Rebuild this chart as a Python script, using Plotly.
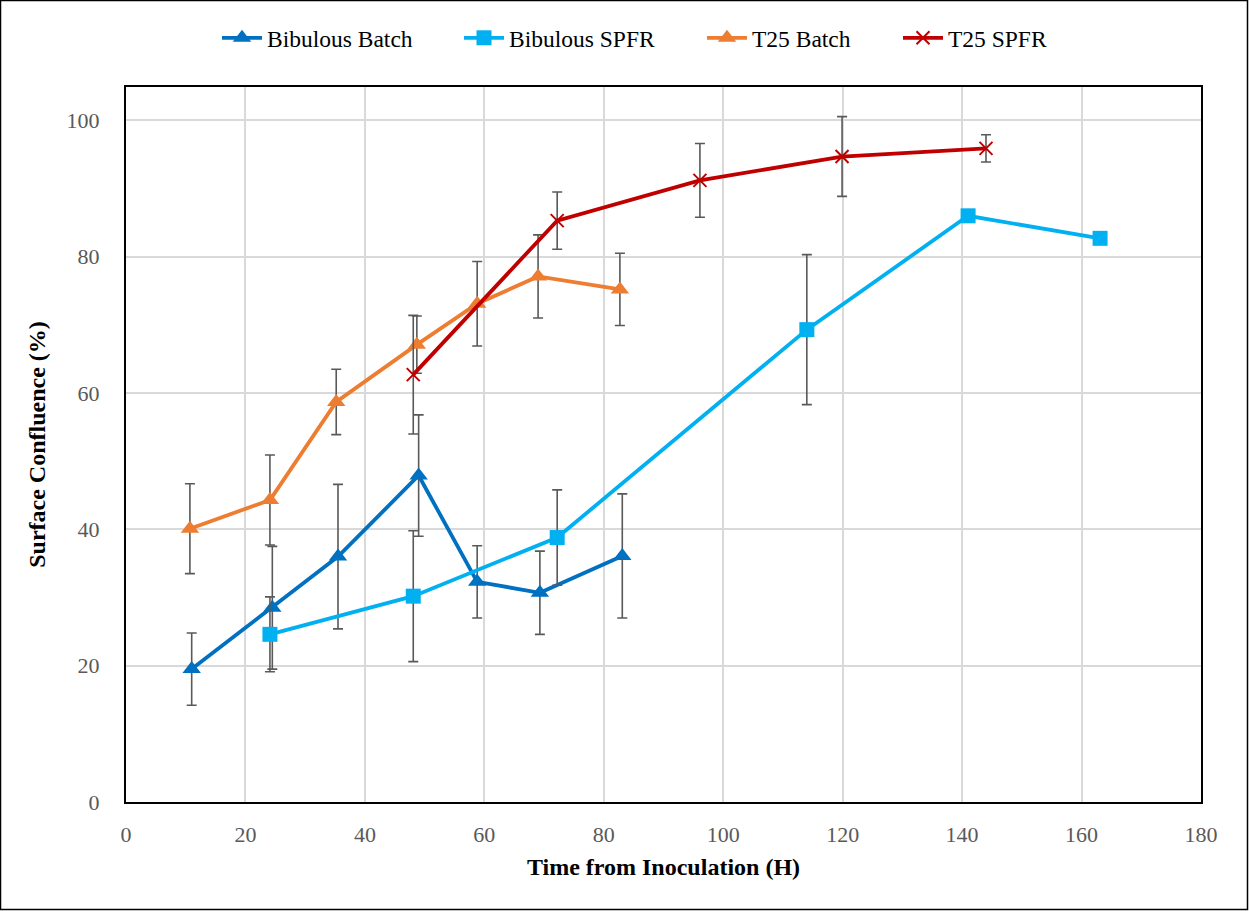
import plotly.graph_objects as go

# Data
bb_x = [11.0, 24.5, 35.5, 49.0, 58.8, 69.3, 83.1]
bb_y = [19.5, 28.5, 36.0, 47.9, 32.3, 30.7, 36.1]
bb_err = [5.3, 9.0, 10.6, 8.9, 5.3, 6.1, 9.1]

bs_x = [24.1, 48.1, 72.2, 114.0, 141.0, 163.1]
bs_y = [24.6, 30.2, 38.8, 69.3, 86.0, 82.7]
bs_err = [5.5, 9.6, 7.0, 11.0, 0, 0]

tb_x = [10.7, 24.1, 35.2, 48.7, 58.8, 69.0, 82.7]
tb_y = [40.1, 44.3, 58.7, 67.1, 73.1, 77.1, 75.2]
tb_err = [6.6, 6.6, 4.8, 4.2, 6.2, 6.1, 5.3]

ts_x = [48.1, 72.2, 96.1, 119.9, 144.0]
ts_y = [62.7, 85.3, 91.2, 94.7, 95.9]
ts_err = [8.7, 4.2, 5.4, 5.85, 2.0]

series = [
    ("Bibulous Batch", bb_x, bb_y, bb_err, "#0070C0", "triangle-up", 16),
    ("Bibulous SPFR", bs_x, bs_y, bs_err, "#00B0F0", "square", 15),
    ("T25 Batch", tb_x, tb_y, tb_err, "#ED7D31", "triangle-up", 16),
    ("T25 SPFR", ts_x, ts_y, ts_err, "#C00000", "x-thin", 13),
]
legend_text_x = [268, 510, 753, 949]  # px where each legend label starts

W, H = 1249, 911
ML, MR, MT, MB = 126, 48, 87, 109
FONT = "Liberation Serif, Times New Roman, serif"

fig = go.Figure()
legend_ids = ["legend", "legend2", "legend3", "legend4"]
for i, (name, x, y, e, c, sym, sz) in enumerate(series):
    mk = dict(symbol=sym, size=sz, color=c)
    if sym == "x-thin":
        mk["line"] = dict(color=c, width=2)
    fig.add_trace(go.Scatter(
        x=x, y=y, name=name, mode="lines+markers",
        line=dict(color=c, width=3.8),
        marker=mk,
        legend=legend_ids[i],
        error_y=dict(type="data", array=e, visible=True, color="#595959",
                     thickness=1.6, width=5),
    ))

pw = W - ML - MR
ph = H - MT - MB
fig.add_shape(type="rect", xref="paper", yref="paper",
              x0=-ML / pw + 0.5 / pw, x1=1 + (MR - 1.5) / pw,
              y0=-(MB - 1.5) / ph, y1=1 + (MT - 0.5) / ph,
              line=dict(color="black", width=1.5), layer="below")

legend_common = dict(orientation="h", xref="container", yref="container",
                     xanchor="left", y=1 - 38 / H, yanchor="middle",
                     font=dict(size=23.5, family=FONT, color="black"),
                     itemwidth=40, bgcolor="rgba(0,0,0,0)")
legend_layouts = {}
for i, lid in enumerate(legend_ids):
    legend_layouts[lid] = dict(legend_common, x=(legend_text_x[i] - 51) / W)

fig.update_layout(
    width=W, height=H,
    margin=dict(l=ML, r=MR, t=MT, b=MB),
    paper_bgcolor="white", plot_bgcolor="white",
    font=dict(family=FONT, color="black"),
    showlegend=True,
    **legend_layouts,
    xaxis=dict(range=[0, 180], dtick=20, showgrid=True, gridcolor="#D9D9D9",
               gridwidth=1.5, zeroline=False, showline=True, linecolor="black",
               linewidth=2, mirror=True, ticks="", ticklabelstandoff=12,
               tickfont=dict(size=22, color="#595959", family=FONT),
               title=dict(text="<b>Time from Inoculation (H)</b>",
                          font=dict(size=24, family=FONT, color="black"),
                          standoff=12)),
    yaxis=dict(range=[0, 104.9], tickvals=[0, 20, 40, 60, 80, 100],
               showgrid=True, gridcolor="#D9D9D9", gridwidth=1.5,
               zeroline=False, showline=True, linecolor="black", linewidth=2,
               mirror=True, ticks="", ticklabelstandoff=20,
               tickfont=dict(size=22, color="#595959", family=FONT),
               title=dict(text="<b>Surface Confluence (%)</b>",
                          font=dict(size=24, family=FONT, color="black"),
                          standoff=14)),
)

fig.write_html("out.html")
